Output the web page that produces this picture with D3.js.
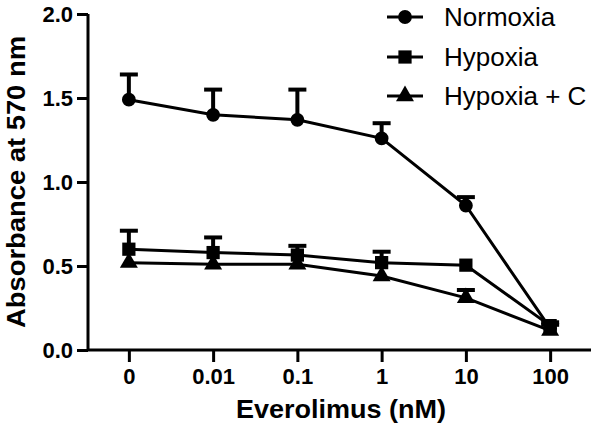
<!DOCTYPE html>
<html><head><meta charset="utf-8">
<script src="https://cdn.jsdelivr.net/npm/d3@7"></script>
<style>body{margin:0;background:#fff}svg{display:block}</style>
</head><body>
<script>
const categories = ["0", "0.01", "0.1", "1", "10", "100"];
const normoxia = [1.49, 1.40, 1.37, 1.26, 0.86, 0.13];
const normoxiaErr = [0.15, 0.15, 0.18, 0.09, 0.05, 0.02];
const hypoxia = [0.60, 0.58, 0.565, 0.52, 0.505, 0.145];
const hypoxiaErr = [0.11, 0.09, 0.055, 0.065, 0.0, 0.02];
const hypoxiaC = [0.52, 0.51, 0.51, 0.44, 0.31, 0.115];
const hypoxiaCErr = [0.0, 0.0, 0.0, 0.0, 0.047, 0.0];
const yTicks = [0.0, 0.5, 1.0, 1.5, 2.0];
const seriesNames = ["Normoxia", "Hypoxia", "Hypoxia + C"];

const W = 600, H = 432;
const svg = d3.select("body").append("svg").attr("width", W).attr("height", H);
const x = d3.scalePoint().domain(categories).range([88, 591]).padding(0.485);
const y = d3.scaleLinear().domain([0, 2]).range([350, 14]);

const font = "Arial, 'Liberation Sans', sans-serif";

// axes
const yAxis = svg.append("g").attr("transform", "translate(88,0)")
  .call(d3.axisLeft(y).tickValues(yTicks).tickFormat(d3.format(".1f")).tickSize(11).tickPadding(4));
const xAxis = svg.append("g").attr("transform", "translate(0,350)")
  .call(d3.axisBottom(x).tickSize(12).tickPadding(6));
[yAxis, xAxis].forEach(g => {
  g.selectAll("path").attr("stroke", "#000").attr("stroke-width", 3);
  g.selectAll("line").attr("stroke", "#000").attr("stroke-width", 3);
  g.selectAll("text").attr("fill", "#000").style("font-family", font)
    .style("font-weight", "bold").style("font-size", "22px");
});
yAxis.select("path").attr("d", "M0,350V14");
xAxis.select("path").attr("d", "M88,0H591");

svg.append("text").attr("transform", "translate(25,182) rotate(-90)")
  .attr("text-anchor", "middle").style("font-family", font).style("font-weight", "bold")
  .style("font-size", "25px").attr("textLength", 292).attr("lengthAdjust", "spacingAndGlyphs")
  .text("Absorbance at 570 nm");
svg.append("text").attr("x", 341).attr("y", 418)
  .attr("text-anchor", "middle").style("font-family", font).style("font-weight", "bold")
  .style("font-size", "25px").attr("textLength", 210).attr("lengthAdjust", "spacingAndGlyphs")
  .text("Everolimus (nM)");

const series = [
  {name: seriesNames[0], vals: normoxia, err: normoxiaErr, sym: d3.symbolCircle, size: 150},
  {name: seriesNames[1], vals: hypoxia, err: hypoxiaErr, sym: d3.symbolSquare, size: 175},
  {name: seriesNames[2], vals: hypoxiaC, err: hypoxiaCErr, sym: d3.symbolTriangle, size: 140}
];

const line = d3.line().x((d, i) => x(categories[i])).y(d => y(d));

series.forEach(s => {
  const g = svg.append("g");
  s.vals.forEach((v, i) => {
    if (s.err[i] > 0) {
      const cx = x(categories[i]);
      g.append("line").attr("x1", cx).attr("x2", cx).attr("y1", y(v)).attr("y2", y(v + s.err[i]))
        .attr("stroke", "#000").attr("stroke-width", 4);
      g.append("line").attr("x1", cx - 9).attr("x2", cx + 9).attr("y1", y(v + s.err[i])).attr("y2", y(v + s.err[i]))
        .attr("stroke", "#000").attr("stroke-width", 4);
    }
  });
  g.append("path").datum(s.vals).attr("d", line).attr("fill", "none")
    .attr("stroke", "#000").attr("stroke-width", 3);
  g.selectAll("path.pt").data(s.vals).enter().append("path").attr("class", "pt")
    .attr("transform", (d, i) => `translate(${x(categories[i])},${y(d)})`)
    .attr("d", d3.symbol().type(s.sym).size(s.size)).attr("fill", "#000");
});

// legend
const leg = svg.append("g");
const rows = [17, 57, 96];
series.forEach((s, i) => {
  leg.append("line").attr("x1", 387).attr("x2", 423).attr("y1", rows[i]).attr("y2", rows[i])
    .attr("stroke", "#000").attr("stroke-width", 3);
  leg.append("path").attr("transform", `translate(405,${rows[i]})`)
    .attr("d", d3.symbol().type(s.sym).size(s.size)).attr("fill", "#000");
  leg.append("text").attr("x", 444).attr("y", rows[i]).attr("dy", "0.36em")
    .style("font-family", font).style("font-size", "26px").text(s.name);
});
</script>
</body></html>
